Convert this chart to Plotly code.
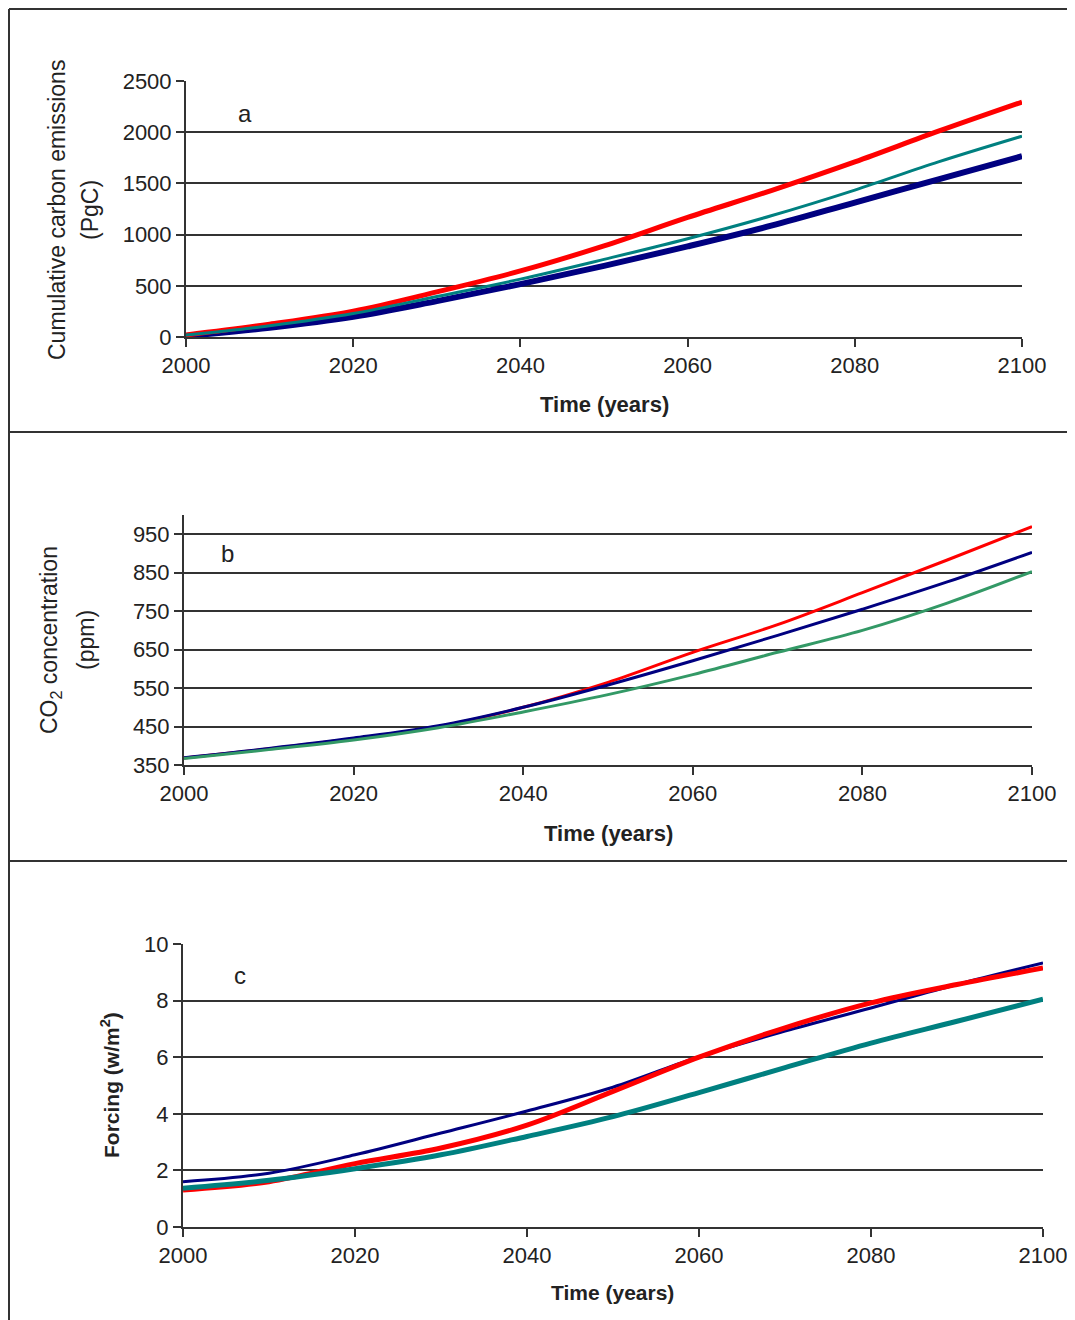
"""Three stacked panels: cumulative emissions, CO2 concentration, forcing."""

import plotly.graph_objects as go

# Style constants
RED = "#ff0000"
NAVY = "#000080"
TEAL = "#008080"
SEA_GREEN = "#339966"
INK = "#222222"
GRID = "#333333"
FONT = "Liberation Sans, Arial, sans-serif"

W, H = 1075, 1320
PAGE_OFFSET = 8  # the page body margin pushes the figure 8px right and down

# Data (10-year steps)
years = [2000, 2010, 2020, 2030, 2040, 2050, 2060, 2070, 2080, 2090, 2100]

# a: cumulative carbon emissions (PgC)
emis_red = [20, 125, 252, 440, 645, 890, 1168, 1430, 1710, 2010, 2295]
emis_teal = [20, 110, 229, 395, 565, 758, 960, 1184, 1435, 1710, 1961]
emis_navy = [10, 90, 197, 350, 516, 694, 885, 1087, 1313, 1539, 1765]

# b: CO2 concentration (ppm)
co2_red = [368, 392, 418, 450, 500, 565, 643, 715, 798, 883, 970]
co2_navy = [369, 393, 420, 452, 500, 558, 621, 687, 755, 826, 903]
co2_green = [367, 390, 415, 447, 488, 533, 585, 643, 700, 771, 853]

# c: forcing (w/m2)
forc_navy = [1.6, 1.9, 2.55, 3.32, 4.1, 4.94, 6.02, 6.92, 7.74, 8.57, 9.33]
forc_red = [1.31, 1.6, 2.24, 2.79, 3.6, 4.79, 6.0, 7.04, 7.92, 8.57, 9.15]
forc_teal = [1.37, 1.65, 2.06, 2.55, 3.2, 3.9, 4.75, 5.63, 6.5, 7.27, 8.05]

year_ticks = [2000, 2020, 2040, 2060, 2080, 2100]


def px_x(x):
    """Window pixel column -> paper fraction."""
    return (x - PAGE_OFFSET) / W


def px_y(y):
    """Window pixel row -> paper fraction."""
    return 1 - (y - PAGE_OFFSET) / H


def line(x, y, color, width, axis):
    return go.Scatter(
        x=x, y=y, mode="lines", line=dict(color=color, width=width, shape="spline"),
        xaxis="x" + axis, yaxis="y" + axis, showlegend=False, hoverinfo="skip",
    )


fig = go.Figure()
# panel a
fig.add_trace(line(years, emis_navy, NAVY, 6, ""))
fig.add_trace(line(years, emis_red, RED, 5, ""))
fig.add_trace(line(years, emis_teal, TEAL, 3, ""))
# panel b
fig.add_trace(line(years, co2_red, RED, 3, "2"))
fig.add_trace(line(years, co2_navy, NAVY, 3, "2"))
fig.add_trace(line(years, co2_green, SEA_GREEN, 3, "2"))
# panel c
fig.add_trace(line(years, forc_navy, NAVY, 3, "3"))
fig.add_trace(line(years, forc_red, RED, 5, "3"))
fig.add_trace(line(years, forc_teal, TEAL, 5, "3"))

xaxis_common = dict(
    range=[2000, 2100], tickvals=year_ticks, showgrid=False, zeroline=False,
    showline=True, linecolor=GRID, linewidth=2, ticks="outside", ticklen=8,
    tickwidth=2, tickcolor=GRID, tickfont=dict(size=22, color=INK),
    automargin=False,
)
yaxis_common = dict(
    showgrid=True, gridcolor=GRID, gridwidth=2, zeroline=False,
    showline=True, linecolor=GRID, linewidth=2, ticks="outside", ticklen=8,
    tickwidth=2, tickcolor=GRID, tickfont=dict(size=22, color=INK),
    automargin=False,
)

fig.update_layout(
    width=W, height=H,
    margin=dict(l=0, r=0, t=0, b=0, pad=0),
    plot_bgcolor="white", paper_bgcolor="white",
    font=dict(family=FONT, size=22, color=INK),
    xaxis=dict(domain=[px_x(186), px_x(1022)], anchor="y", **xaxis_common),
    yaxis=dict(domain=[px_y(337), px_y(81)], anchor="x", range=[0, 2500],
               tickvals=[0, 500, 1000, 1500, 2000, 2500], **yaxis_common),
    xaxis2=dict(domain=[px_x(184), px_x(1032)], anchor="y2", **xaxis_common),
    yaxis2=dict(domain=[px_y(765), px_y(515)], anchor="x2", range=[350, 1000],
                tickvals=[350, 450, 550, 650, 750, 850, 950], **yaxis_common),
    xaxis3=dict(domain=[px_x(183), px_x(1043)], anchor="y3", **xaxis_common),
    yaxis3=dict(domain=[px_y(1227), px_y(944)], anchor="x3", range=[0, 10],
                tickvals=[0, 2, 4, 6, 8, 10], **yaxis_common),
)


def note(text, x, y, size=22, angle=0):
    fig.add_annotation(
        text=text, x=px_x(x), y=px_y(y), xref="paper", yref="paper",
        xanchor="center", yanchor="middle", showarrow=False, textangle=angle,
        font=dict(size=size, color=INK),
    )


# panel letters
note("a", 245, 113, size=24)
note("b", 227, 553, size=24)
note("c", 240, 975, size=24)

# axis titles
note("Cumulative carbon emissions", 57, 210, size=23, angle=-90)
note("(PgC)", 90, 210, size=23, angle=-90)
note("CO<sub>2</sub> concentration", 50, 640, size=23, angle=-90)
note("(ppm)", 86, 640, size=23, angle=-90)
note("<b>Forcing (w/m<sup>2</sup>)</b>", 110, 1085, size=21, angle=-90)
note("<b>Time (years)</b>", 604, 404)
note("<b>Time (years)</b>", 608, 833)
note("<b>Time (years)</b>", 612, 1292, size=21)

# panel frames (the outer ones sit just inside the figure edge)
frame = dict(color=GRID, width=2)
for y in (9, 432, 861):
    fig.add_shape(type="line", xref="paper", yref="paper",
                  x0=px_x(9), x1=1, y0=px_y(y), y1=px_y(y), line=frame)
fig.add_shape(type="line", xref="paper", yref="paper",
              x0=px_x(9), x1=px_x(9), y0=px_y(9), y1=0, line=frame)

fig.write_html("out.html")
